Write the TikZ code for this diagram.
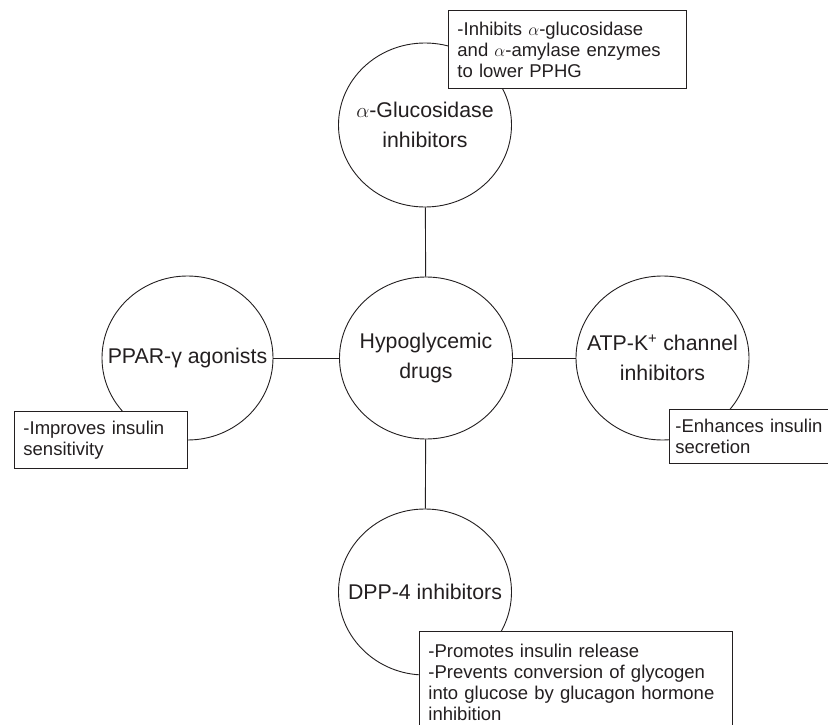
\documentclass[tikz,border=0pt]{standalone}
\usepackage{fontspec}
\setmainfont{Liberation Sans}
\usetikzlibrary{shapes.geometric}
\definecolor{ink}{HTML}{231F20}
\tikzset{
  drug/.style={draw=ink, line width=0.9pt, shape=ellipse, fill=white, inner sep=0pt,
    minimum width=173pt, minimum height=164pt},
  lbl/.style={text=ink, align=center, font=\fontsize{21.3}{30}\selectfont, inner sep=0pt},
  notebox/.style={draw=ink, line width=0.9pt, fill=white, anchor=north west, align=left,
    text=ink, font=\fontsize{18.5}{21}\selectfont, inner xsep=9pt, inner ysep=0pt},
  link/.style={draw=ink, line width=0.9pt}
}
\begin{document}
\begin{tikzpicture}[x=1pt, y=-1pt]
\useasboundingbox (0,0) rectangle (828,725);
% circles
\node[drug, label={[lbl]center:{$\alpha$-Glucosidase\\inhibitors}}] (A) at (425,125) {};
\node[drug, minimum height=162pt, label={[lbl]center:{Hypoglycemic\\drugs}}] (H) at (426,358) {};
\node[drug, minimum width=171pt, label={[lbl]center:{PPAR-γ agonists}}] (L) at (187.5,358) {};
\node[drug, label={[lbl]center:{ATP-K\textsuperscript{+} channel\\inhibitors}}] (R) at (662.5,358) {};
\node[drug, minimum height=166pt, label={[lbl]center:{DPP-4 inhibitors}}] (B) at (425,592) {};
% connectors
\draw[link] (A) -- (H);
\draw[link] (H) -- (B);
\draw[link] (L) -- (H);
\draw[link] (H) -- (R);
% note boxes
\node[notebox, text width=220pt, minimum height=78pt] (TA) at (448,10)
  {-Inhibits $\alpha$-glucosidase\\and $\alpha$-amylase enzymes\\to lower PPHG};
\node[notebox, text width=155pt, minimum height=57pt] (TL) at (14,411)
  {-Improves insulin\\sensitivity};
\node[notebox, inner xsep=6pt, text width=160pt, minimum height=54pt] (TR) at (669,409)
  {-Enhances insulin\\secretion};
\node[notebox, text width=295pt, minimum height=102pt] (TB) at (419,631)
  {-Promotes insulin release\\-Prevents conversion of glycogen\\into glucose by glucagon hormone\\inhibition};
\end{tikzpicture}
\end{document}
